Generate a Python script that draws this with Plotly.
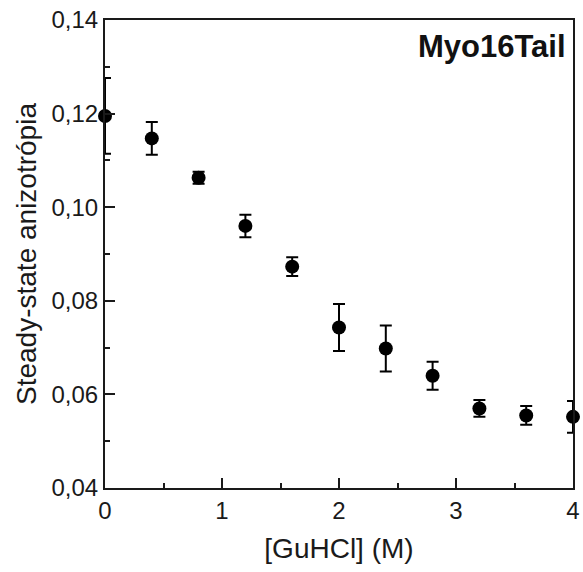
import plotly.graph_objects as go

gdn = [0.0, 0.4, 0.8, 1.2, 1.6, 2.0, 2.4, 2.8, 3.2, 3.6, 4.0]
anis = [0.1195, 0.1147, 0.1063, 0.0960, 0.0873, 0.0743, 0.0698, 0.0640, 0.0570, 0.0555, 0.0552]
err = [0.0081, 0.0035, 0.0013, 0.0024, 0.0020, 0.0050, 0.0049, 0.0030, 0.0018, 0.0020, 0.0034]

FONT = "Arial, Liberation Sans, sans-serif"
INK = "#1a1a1a"

fig = go.Figure()
fig.add_trace(go.Scatter(
    x=gdn, y=anis, mode="markers",
    marker=dict(color="black", size=14),
    error_y=dict(type="data", array=err, visible=True, color="black", thickness=2, width=6),
    cliponaxis=False, showlegend=False,
))

axis_common = dict(
    showline=True, linecolor=INK, linewidth=2, mirror=True, automargin=False,
    ticks="inside", tickcolor=INK, tickwidth=2, showgrid=False, zeroline=False,
    tickfont=dict(family=FONT, size=24, color=INK),
)

fig.update_xaxes(
    range=[0, 4], dtick=1, tick0=0, ticklen=10,
    minor=dict(ticks="inside", dtick=0.5, ticklen=5, tickcolor=INK, tickwidth=2),
    title=dict(text="[GuHCl] (M)", font=dict(family=FONT, size=28, color=INK), standoff=16),
    **axis_common,
)
fig.update_yaxes(
    range=[0.04, 0.14], dtick=0.02, tick0=0.04, ticklen=10, tickformat=".2f",
    minor=dict(ticks="inside", dtick=0.01, ticklen=5, tickcolor=INK, tickwidth=2),
    title=dict(text="Steady-state anizotrópia", font=dict(family=FONT, size=28, color=INK), standoff=7),
    **axis_common,
)

fig.add_annotation(
    x=0.99, y=0.985, xref="paper", yref="paper", xanchor="right", yanchor="top",
    text="<b>Myo16Tail</b>", showarrow=False,
    font=dict(family=FONT, size=31, color="#111"),
)

fig.update_layout(
    width=583, height=572,
    margin=dict(l=105, r=10, t=20, b=84),
    plot_bgcolor="white", paper_bgcolor="white",
    separators=", ",
)

fig.write_html("out.html")
